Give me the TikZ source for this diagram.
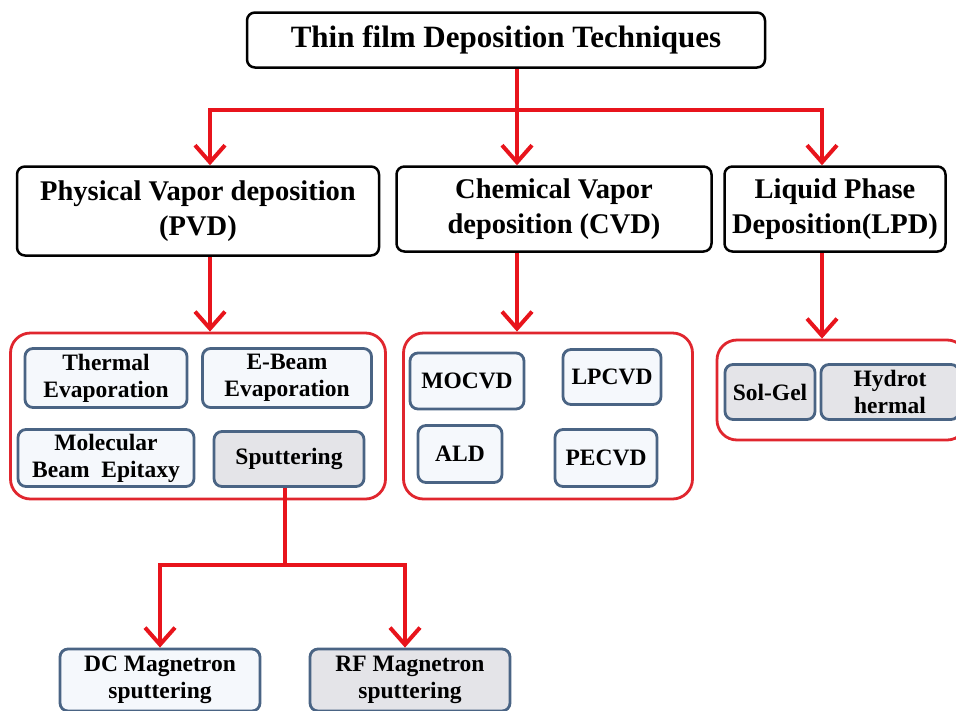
\documentclass[tikz,border=0pt]{standalone}
\usepackage{fontspec}
\setmainfont{Liberation Serif}
\usetikzlibrary{arrows.meta,positioning}
\definecolor{arrred}{HTML}{E8141C}
\definecolor{grpred}{HTML}{E0262E}
\definecolor{itemblue}{HTML}{4A6484}
\definecolor{itemfill}{HTML}{F5F8FC}
\definecolor{greyfill}{HTML}{E4E4E8}
\tikzset{
  topbox/.style={draw=black, line width=2.5pt, rounded corners=8pt, fill=white, align=center,
    font=\fontsize{28.5}{35}\selectfont\bfseries, inner sep=0pt},
  grp/.style={draw=grpred, line width=2.8pt, rounded corners=20pt, fill=white, inner sep=0pt},
  item/.style={draw=itemblue, line width=2.8pt, rounded corners=8pt, fill=itemfill, align=center,
    font=\fontsize{23.5}{27}\selectfont\bfseries, inner sep=0pt},
  gitem/.style={item, fill=greyfill},
  arr/.style={draw=arrred, line width=4pt, -{Straight Barb[length=17pt,width=30pt,line width=4pt]}},
  ln/.style={draw=arrred, line width=4pt},
}
\begin{document}
\begin{tikzpicture}[x=1pt,y=-1pt]
\useasboundingbox (0,0) rectangle (956,710);
% top level
\node[topbox, minimum width=518pt, minimum height=55pt, font=\fontsize{31}{36}\selectfont\bfseries] (title) at (506,40) {Thin film Deposition Techniques};
\node[topbox, minimum width=362pt, minimum height=89pt] (pvd) at (198,211) {Physical Vapor deposition\\(PVD)};
\node[topbox, minimum width=315pt, minimum height=85pt] (cvd) at (554,209) {Chemical Vapor\\deposition (CVD)};
\node[topbox, minimum width=221pt, minimum height=85pt] (lpd) at (835,209) {Liquid Phase\\Deposition(LPD)};
% groups
\node[grp, minimum width=375pt, minimum height=166pt] (gpvd) at (198,416) {};
\node[grp, minimum width=289pt, minimum height=166pt] (gcvd) at (548,416) {};
\node[grp, minimum width=250pt, minimum height=100pt] (glpd) at (842,390) {};
% PVD items
\node[item, minimum width=162pt, minimum height=59pt] (thermal) at (106,378) {Thermal\\Evaporation};
\node[item, minimum width=169pt, minimum height=59pt] (ebeam) at (287,378) {E-Beam\\Evaporation};
\node[item, minimum width=176pt, minimum height=57pt] (mbe) at (106,458) {Molecular\\Beam\ \ Epitaxy};
\node[gitem, minimum width=150pt, minimum height=55pt] (sput) at (289,459) {Sputtering};
% CVD items
\node[item, minimum width=114pt, minimum height=56pt] (mocvd) at (467,381) {MOCVD};
\node[item, minimum width=98pt, minimum height=55pt] (lpcvd) at (612,377) {LPCVD};
\node[item, minimum width=84pt, minimum height=57pt] (ald) at (460,454) {ALD};
\node[item, minimum width=102pt, minimum height=57pt] (pecvd) at (606,458) {PECVD};
% LPD items
\node[gitem, minimum width=90pt, minimum height=55pt] (solgel) at (770,392) {Sol-Gel};
\node[gitem, minimum width=138pt, minimum height=55pt] (hydro) at (890,392) {Hydrot\\hermal};
% sputtering children
\node[item, minimum width=200pt, minimum height=62pt] (dc) at (160,680) {DC Magnetron\\sputtering};
\node[gitem, minimum width=200pt, minimum height=62pt] (rf) at (410,680) {RF Magnetron\\sputtering};
% connectors
\coordinate (j1) at (517,110);
\draw[ln] (title.south -| j1) -- (j1);
\draw[arr] (j1) -| ([xshift=12pt]pvd.north);
\draw[arr] (j1) -- (j1 |- cvd.north);
\draw[arr] (j1) -| ([xshift=-13pt]lpd.north);
\draw[arr] ([xshift=12pt]pvd.south) -- ([xshift=12pt]pvd.south |- gpvd.north);
\draw[arr] ([xshift=-37pt]cvd.south) -- ([xshift=-37pt]cvd.south |- gcvd.north);
\draw[arr] ([xshift=-13pt]lpd.south) -- ([xshift=-13pt]lpd.south |- glpd.north);
\coordinate (j2) at (285,565);
\draw[ln] (sput.south -| j2) -- (j2);
\draw[arr] (j2) -| (dc.north);
\draw[arr] (j2) -| ([xshift=-5pt]rf.north);
\end{tikzpicture}
\end{document}
